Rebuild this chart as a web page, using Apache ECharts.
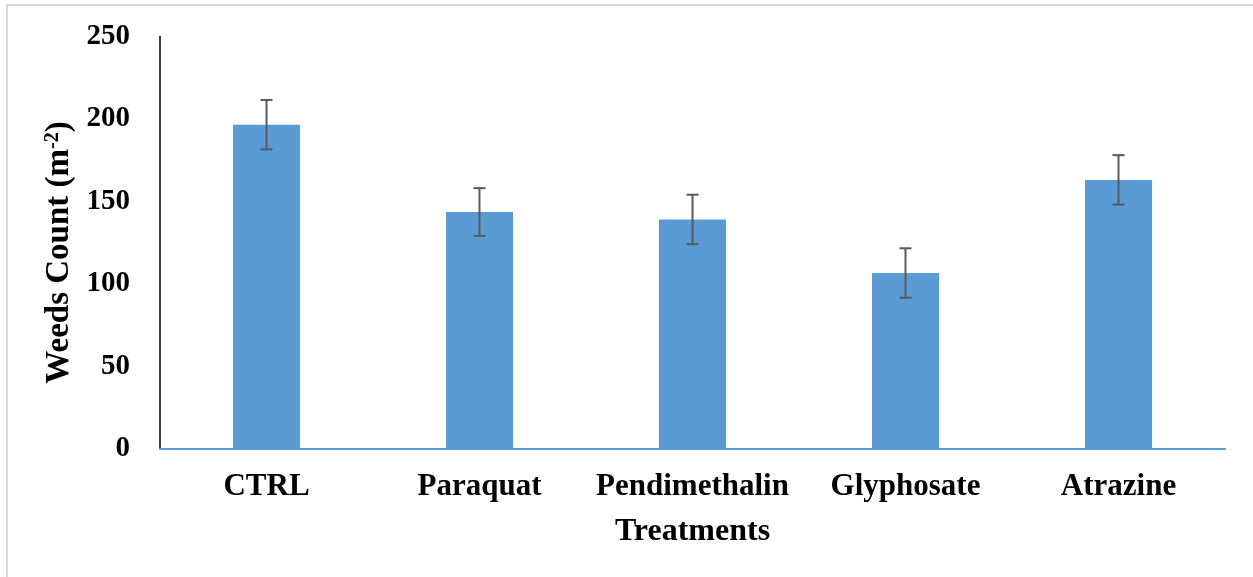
<!DOCTYPE html>
<html>
<head>
    <meta charset="utf-8">
    <title>Weeds Count</title>
    <script src="https://cdn.jsdelivr.net/npm/echarts@6/dist/echarts.min.js"></script>
    <style>
        html, body { margin: 0; padding: 0; background: #fff; }
    </style>
</head>
<body>
    <div id="main" style="width: 1253px;height:577px;"></div>
    <script type="text/javascript">
    // data
    var categories = ['CTRL', 'Paraquat', 'Pendimethalin', 'Glyphosate', 'Atrazine'];
    var weeds = [196.5, 143.5, 139, 106.5, 163];
    var stdErr = [15, 14.5, 15, 15, 15];
    var yTicks = [0, 50, 100, 150, 200, 250];

    var errData = weeds.map(function (v, i) {
        return [i, v - stdErr[i], v + stdErr[i]];
    });

    var font = 'Liberation Serif, Times New Roman, serif';

    var myChart = echarts.init(document.getElementById('main'));

    var option = {
        backgroundColor: '#fff',
        animation: false,
        graphic: [{
            type: 'rect',
            shape: { x: 7, y: 5, width: 1270, height: 600 },
            style: { fill: 'none', stroke: '#d9d9d9', lineWidth: 2 },
            silent: true
        }],
        grid: { left: 160, right: 28, top: 36.5, bottom: 128.5 },
        xAxis: {
            type: 'category',
            data: categories,
            name: 'Treatments',
            nameLocation: 'middle',
            nameGap: 67,
            nameTextStyle: { fontFamily: font, fontWeight: 'bold', fontSize: 32, color: '#000' },
            axisLine: { lineStyle: { color: '#5b9bd5', width: 2 } },
            axisTick: { show: false },
            axisLabel: { interval: 0, fontFamily: font, fontWeight: 'bold', fontSize: 31, color: '#000', margin: 23 }
        },
        yAxis: {
            type: 'value',
            min: yTicks[0],
            max: yTicks[yTicks.length - 1],
            interval: 50,
            name: '{n|Weeds Count (m}{s|-2}{n|)}',
            nameLocation: 'middle',
            nameRotate: 90,
            nameGap: 83,
            nameTextStyle: {
                padding: [0, 20, 0, 0],
                rich: {
                    n: { fontFamily: font, fontWeight: 'bold', fontSize: 33, color: '#000' },
                    s: { fontFamily: font, fontWeight: 'bold', fontSize: 20, color: '#000', verticalAlign: 'top', padding: [0, 0, 12, 0] }
                }
            },
            splitLine: { show: false },
            axisLine: { show: true, lineStyle: { color: '#000', width: 1.5 } },
            axisTick: { show: false },
            axisLabel: { fontFamily: font, fontWeight: 'bold', fontSize: 29, color: '#000', margin: 30 }
        },
        series: [{
            type: 'bar',
            data: weeds,
            barWidth: '31.5%',
            itemStyle: { color: '#5b9bd5' }
        }, {
            type: 'custom',
            data: errData,
            z: 10,
            renderItem: function (params, api) {
                var x = api.value(0);
                var lo = api.coord([x, api.value(1)]);
                var hi = api.coord([x, api.value(2)]);
                var half = 6;
                var style = { stroke: '#595959', lineWidth: 2 };
                return {
                    type: 'group',
                    children: [
                        { type: 'line', shape: { x1: lo[0], y1: lo[1], x2: hi[0], y2: hi[1] }, style: style },
                        { type: 'line', shape: { x1: lo[0] - half, y1: lo[1], x2: lo[0] + half, y2: lo[1] }, style: style },
                        { type: 'line', shape: { x1: hi[0] - half, y1: hi[1], x2: hi[0] + half, y2: hi[1] }, style: style }
                    ]
                };
            }
        }]
    };

    myChart.setOption(option);
    </script>
</body>
</html>
